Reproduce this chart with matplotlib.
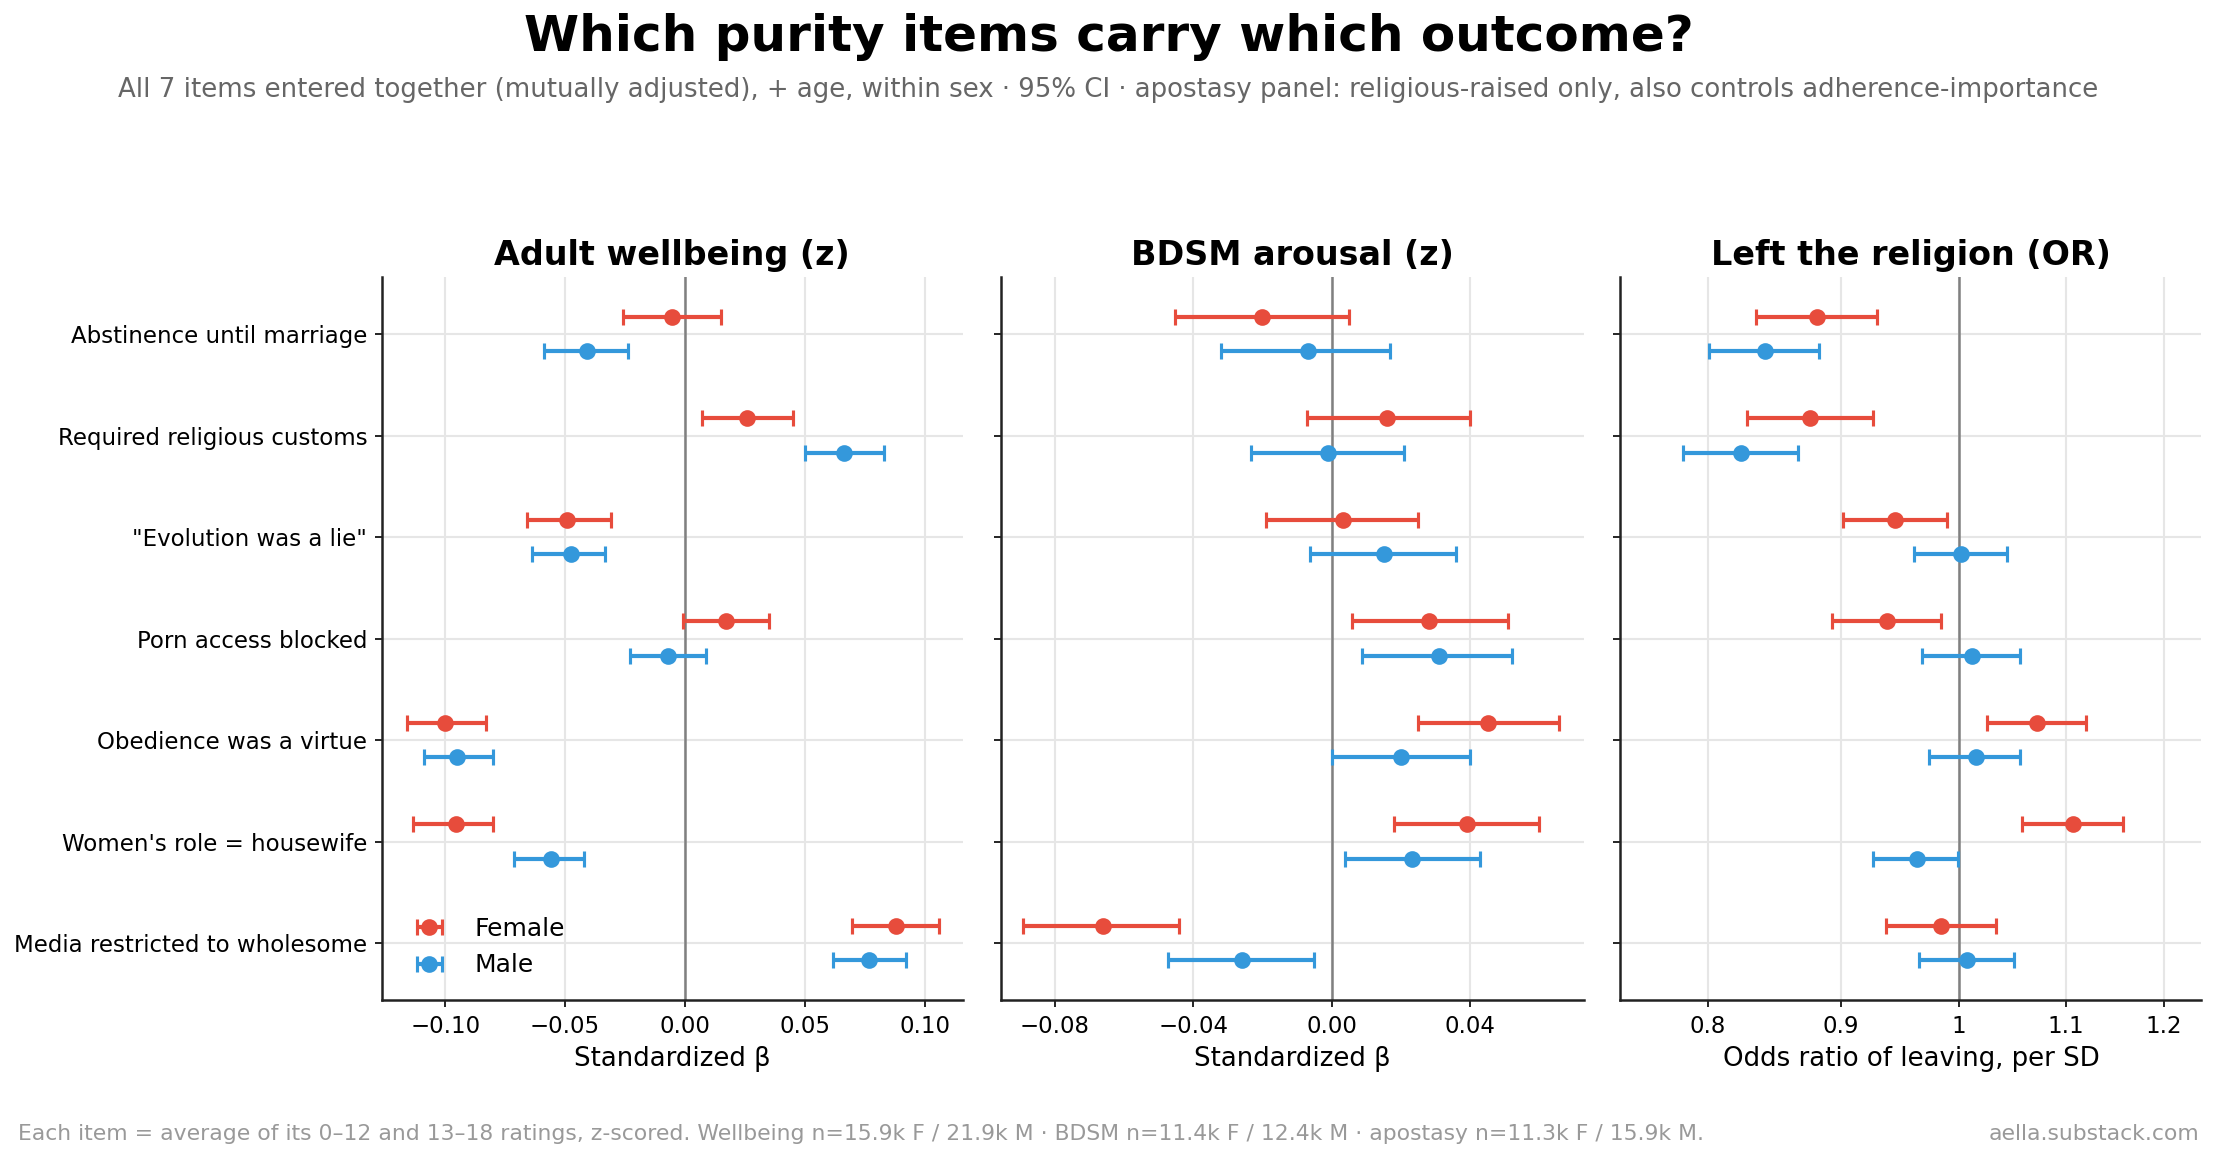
import numpy as np
import matplotlib
matplotlib.use("Agg")
import matplotlib.pyplot as plt
from matplotlib.ticker import FixedLocator, FuncFormatter, NullLocator

items = [
    "Abstinence until marriage",
    "Required religious customs",
    "\"Evolution was a lie\"",
    "Porn access blocked",
    "Obedience was a virtue",
    "Women's role = housewife",
    "Media restricted to wholesome",
]

# wellbeing (standardized beta)
wb_f = [-0.0055, 0.0261, -0.049, 0.0171, -0.100, -0.0956, 0.088]
wb_f_lo = [-0.026, 0.0073, -0.066, -0.0008, -0.116, -0.1133, 0.0696]
wb_f_hi = [0.0152, 0.0453, -0.031, 0.035, -0.0828, -0.0799, 0.106]
wb_m = [-0.041, 0.0663, -0.0476, -0.007, -0.0949, -0.0557, 0.077]
wb_m_lo = [-0.0589, 0.050, -0.0639, -0.0231, -0.1089, -0.0712, 0.0617]
wb_m_hi = [-0.0239, 0.0829, -0.0332, 0.0089, -0.0799, -0.0419, 0.0921]

# BDSM arousal (standardized beta)
bd_f = [-0.0201, 0.016, 0.0031, 0.0281, 0.0451, 0.0389, -0.066]
bd_f_lo = [-0.0452, -0.0071, -0.0191, 0.0059, 0.025, 0.0179, -0.0892]
bd_f_hi = [0.005, 0.0399, 0.025, 0.0508, 0.0657, 0.0599, -0.044]
bd_m = [-0.007, -0.0011, 0.0151, 0.0309, 0.0201, 0.0231, -0.026]
bd_m_lo = [-0.032, -0.0232, -0.0062, 0.0088, 0.0002, 0.0039, -0.0473]
bd_m_hi = [0.0168, 0.0209, 0.0359, 0.0519, 0.0399, 0.0429, -0.0052]

# apostasy (odds ratio)
ap_f = [0.8817, 0.8758, 0.945, 0.9377, 1.0715, 1.107, 0.9845]
ap_f_lo = [0.835, 0.828, 0.902, 0.8932, 1.0251, 1.058, 0.937]
ap_f_hi = [0.930, 0.9266, 0.9898, 0.9845, 1.120, 1.157, 1.0335]
ap_m = [0.8413, 0.8235, 1.002, 1.0113, 1.015, 0.963, 1.0075]
ap_m_lo = [0.801, 0.7825, 0.9607, 0.968, 0.9735, 0.9266, 0.9652]
ap_m_hi = [0.8833, 0.8663, 1.0438, 1.056, 1.056, 0.9993, 1.0505]

RED = "#e74c3c"
BLUE = "#3498db"

fig = plt.figure(figsize=(2217 / 150, 1160 / 150), dpi=150)

boxes = [
    (0.1722, 0.4343),
    (0.4515, 0.7143),
    (0.7309, 0.9930),
]
bottom, top = 0.138, 0.761
axes = []
for l, r in boxes:
    ax = fig.add_axes([l, bottom, r - l, top - bottom])
    axes.append(ax)

panels = [
    ("Adult wellbeing (z)", "Standardized \u03b2",
     (wb_f, wb_f_lo, wb_f_hi), (wb_m, wb_m_lo, wb_m_hi), 0.0),
    ("BDSM arousal (z)", "Standardized \u03b2",
     (bd_f, bd_f_lo, bd_f_hi), (bd_m, bd_m_lo, bd_m_hi), 0.0),
    ("Left the religion (OR)", "Odds ratio of leaving, per SD",
     (ap_f, ap_f_lo, ap_f_hi), (ap_m, ap_m_lo, ap_m_hi), 1.0),
]

y = np.arange(len(items))
off = 0.17

for i, (ax, (title, xlabel, fem, mal, ref)) in enumerate(zip(axes, panels)):
    for (est, lo, hi), yy, col, lab in [
        (fem, y - off, RED, "Female"),
        (mal, y + off, BLUE, "Male"),
    ]:
        est = np.array(est)
        err = [est - np.array(lo), np.array(hi) - est]
        ax.errorbar(est, yy, xerr=err, fmt="o", color=col, ms=7,
                    elinewidth=2, capsize=4, capthick=1.5, label=lab, zorder=3)
    ax.axvline(ref, color="#808080", lw=1.2, zorder=1)
    ax.set_yticks(y)
    if i == 0:
        ax.set_yticklabels(items, fontsize=11)
    else:
        ax.set_yticklabels([])
    ax.set_ylim(6.56, -0.56)
    ax.grid(True, color="#e6e6e6", lw=1, zorder=0)
    ax.set_axisbelow(True)
    ax.spines["top"].set_visible(False)
    ax.spines["right"].set_visible(False)
    for s in ("left", "bottom"):
        ax.spines[s].set_linewidth(1.2)
        ax.spines[s].set_color("#222222")
    ax.tick_params(labelsize=11)
    ax.set_title(title, fontsize=16, fontweight="bold", pad=6)
    ax.set_xlabel(xlabel, fontsize=12.5)

axes[0].set_xlim(-0.1265, 0.1160)
axes[0].set_xticks([-0.10, -0.05, 0.0, 0.05, 0.10])
axes[0].set_xticklabels(["\u22120.10", "\u22120.05", "0.00", "0.05", "0.10"])

axes[1].set_xlim(-0.0955, 0.0727)
axes[1].set_xticks([-0.08, -0.04, 0.0, 0.04])
axes[1].set_xticklabels(["\u22120.08", "\u22120.04", "0.00", "0.04"])

axes[2].set_xscale("log")
axes[2].set_xlim(0.740, 1.2407)
axes[2].xaxis.set_major_locator(FixedLocator([0.8, 0.9, 1.0, 1.1, 1.2]))
axes[2].xaxis.set_minor_locator(NullLocator())
axes[2].xaxis.set_major_formatter(FuncFormatter(lambda v, p: f"{v:g}"))

leg = axes[0].legend(loc="lower left", frameon=False, fontsize=12,
                     handletextpad=0.8, borderaxespad=0.5)

fig.text(0.5, 0.968, "Which purity items carry which outcome?",
         ha="center", va="center", fontsize=24, fontweight="bold")
fig.text(0.5, 0.922,
         "All 7 items entered together (mutually adjusted), + age, within sex \u00b7 95% CI \u00b7 "
         "apostasy panel: religious-raised only, also controls adherence-importance",
         ha="center", va="center", fontsize=12.5, color="#666666")
fig.text(0.008, 0.022,
         "Each item = average of its 0\u201312 and 13\u201318 ratings, z-scored. "
         "Wellbeing n=15.9k F / 21.9k M \u00b7 BDSM n=11.4k F / 12.4k M \u00b7 "
         "apostasy n=11.3k F / 15.9k M.",
         ha="left", va="center", fontsize=10.5, color="#999999")
fig.text(0.992, 0.022, "aella.substack.com", ha="right", va="center",
         fontsize=10.5, color="#999999")

fig.savefig("out.png", dpi=150)
